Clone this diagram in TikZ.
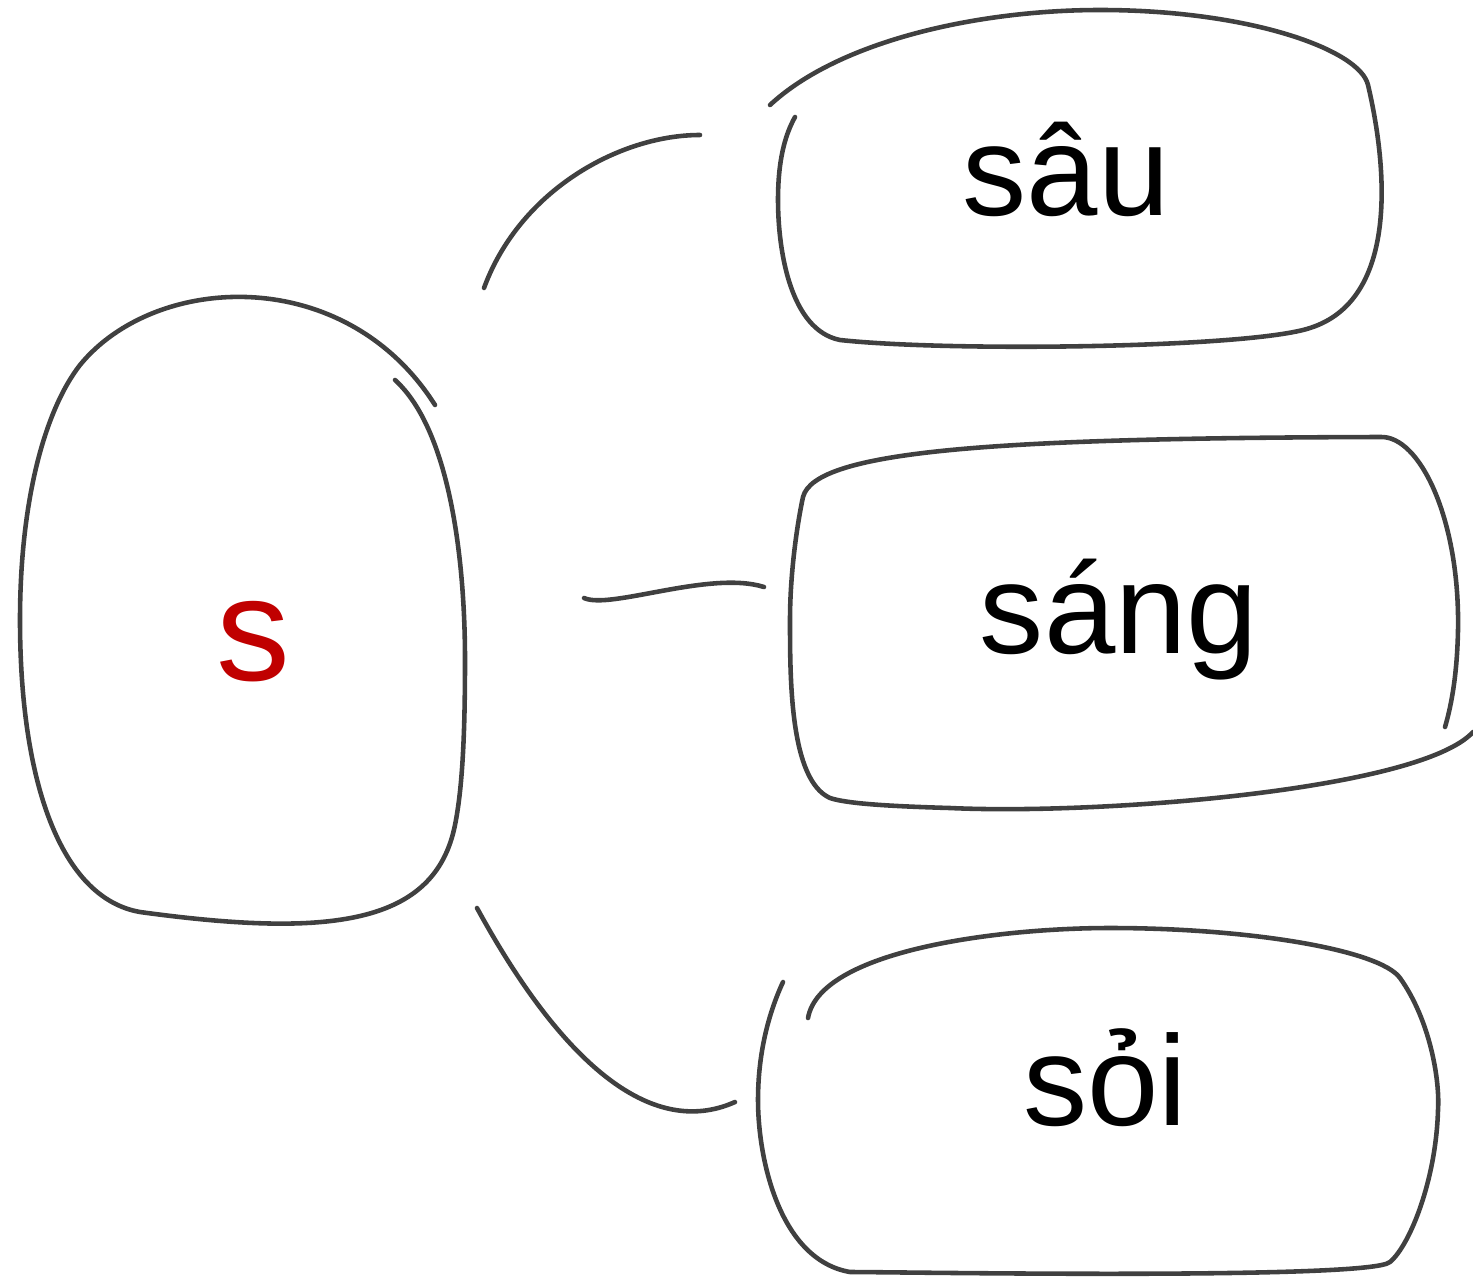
\documentclass[tikz,border=0pt]{standalone}
\usepackage{fontspec}
\setmainfont{Liberation Sans}
\definecolor{inkgray}{HTML}{404040}
\definecolor{rootred}{HTML}{C00000}
\tikzset{
  blob/.style={draw=inkgray, line width=2.6pt, line cap=round, line join=round},
  link/.style={draw=inkgray, line width=2.6pt, line cap=round},
  word/.style={inner sep=0pt, anchor=base, font=\fontsize{73}{80}\selectfont},
  root/.style={word, text=rootred, font=\fontsize{84}{92}\selectfont}
}
\begin{document}
\begin{tikzpicture}[x=0.02cm, y=-0.02cm]
    \useasboundingbox (0,0) rectangle (1473,1277);

    \node[root] (s) at (253,680) {s};
    \node[word] (sau) at (1066,215) {sâu};
    \node[word] (sang) at (1119,653) {sáng};
    \node[word] (soi) at (1105,1125) {sỏi};

    \draw[blob] (395,380) .. controls (450,430) and (465,560) .. (465,660)
        .. controls (465,740) and (462,790) .. (455,825)
        .. controls (435,925) and (330,938) .. (140,912)
        .. controls (60,898) and (20,780) .. (20,620)
        .. controls (20,500) and (45,410) .. (80,365)
        .. controls (155,273) and (345,263) .. (435,405);

    \draw[blob] (770,105) .. controls (840,40) and (980,10) .. (1100,10)
        .. controls (1250,10) and (1360,50) .. (1368,85)
        .. controls (1388,170) and (1398,300) .. (1310,328)
        .. controls (1250,348) and (950,352) .. (840,340)
        .. controls (790,330) and (778,250) .. (778,200)
        .. controls (778,160) and (785,135) .. (795,117);

    \draw[blob] (1473,732) .. controls (1420,790) and (1100,815) .. (950,808)
        .. controls (880,806) and (845,803) .. (830,798)
        .. controls (790,780) and (790,680) .. (790,620)
        .. controls (790,570) and (798,520) .. (803,497)
        .. controls (815,450) and (1000,438) .. (1380,437)
        .. controls (1420,435) and (1460,520) .. (1458,630)
        .. controls (1457,680) and (1450,710) .. (1445,727);

    \draw[blob] (808,1018) .. controls (820,950) and (1000,928) .. (1110,928)
        .. controls (1250,928) and (1380,950) .. (1400,978)
        .. controls (1430,1020) and (1440,1080) .. (1438,1110)
        .. controls (1436,1180) and (1410,1245) .. (1390,1262)
        .. controls (1370,1280) and (900,1272) .. (850,1272)
        .. controls (780,1260) and (758,1160) .. (758,1100)
        .. controls (758,1050) and (770,1010) .. (783,982);

    \coordinate (s-top) at (484,288);
    \coordinate (sau-in) at (700,135);
    \coordinate (s-mid) at (584,598);
    \coordinate (sang-in) at (764,587);
    \coordinate (s-low) at (477,908);
    \coordinate (soi-in) at (735,1102);

    \draw[link] (s-top) .. controls (520,190) and (620,135) .. (sau-in);
    \draw[link] (s-mid) .. controls (610,610) and (710,570) .. (sang-in);
    \draw[link] (s-low) .. controls (560,1060) and (650,1140) .. (soi-in);
\end{tikzpicture}
\end{document}
